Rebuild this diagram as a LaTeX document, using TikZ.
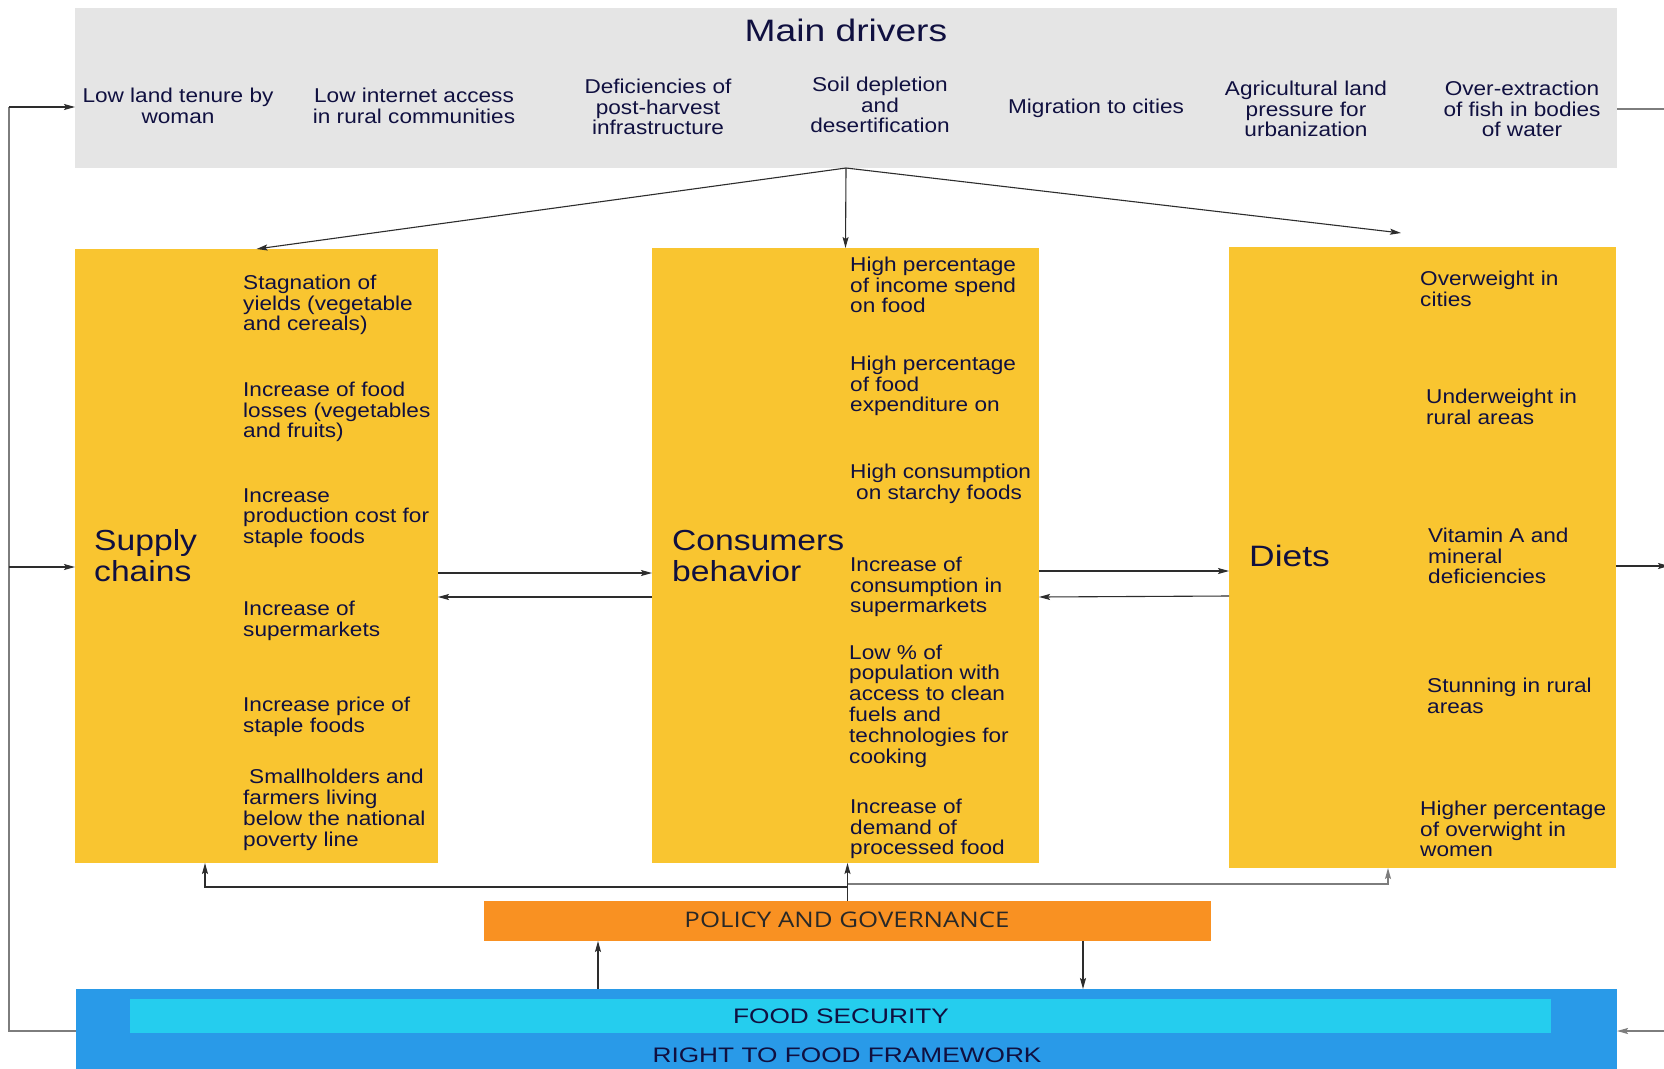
\documentclass[tikz,border=0pt]{standalone}
\usepackage{fontspec}
\setmainfont{Liberation Sans}
\newfontfamily\bodyfont[FakeStretch=1.13]{Liberation Sans}
\newfontfamily\headfont[FakeStretch=1.16]{Liberation Sans}
\newfontfamily\titlefont[FakeStretch=1.2]{Liberation Sans}
\newfontfamily\capsfont[FakeStretch=1.25]{Liberation Sans}
\newfontfamily\govfont[FakeStretch=1.2]{Open Sans}
\usetikzlibrary{arrows.meta}

\definecolor{ink}{RGB}{16,16,64}
\definecolor{drvgray}{RGB}{229,229,229}
\definecolor{boxyellow}{RGB}{249,197,48}
\definecolor{govorange}{RGB}{249,145,34}
\definecolor{frameblue}{RGB}{41,154,232}
\definecolor{secucyan}{RGB}{37,205,238}
\definecolor{wire}{RGB}{45,45,45}
\definecolor{loopgray}{RGB}{125,125,125}
\definecolor{govtext}{RGB}{40,40,40}

\tikzset{
  panel/.style={anchor=north west, inner sep=0pt, outer sep=0pt, draw=none},
  item/.style={anchor=west, align=left, inner sep=0pt, text=ink,
    font=\bodyfont\fontsize{20}{20.8}\selectfont},
  driver/.style={align=center, inner sep=0pt, text=ink,
    font=\bodyfont\fontsize{20}{20.6}\selectfont},
  blocktitle/.style={anchor=west, align=left, inner sep=0pt, text=ink,
    font=\headfont\fontsize{29}{31}\selectfont},
  wirel/.style={draw=wire, line width=1.1pt},
  loopl/.style={draw=loopgray, line width=1.3pt},
  tip/.style={-{Stealth[length=11pt,width=6pt,inset=2pt]}},
}

\begin{document}
\begin{tikzpicture}[x=1pt,y=-1pt]
\useasboundingbox (0,0) rectangle (1664,1068);
\clip (0,0) rectangle (1664,1068);
\fill[white] (0,0) rectangle (1664,1068);

% ---- panels ----
\node[panel, fill=drvgray, minimum width=1542pt, minimum height=160pt] (drivers) at (75,8) {};
\node[panel, fill=boxyellow, minimum width=363pt, minimum height=614pt] (supply) at (75,249) {};
\node[panel, fill=boxyellow, minimum width=387pt, minimum height=615pt] (consumers) at (652,248) {};
\node[panel, fill=boxyellow, minimum width=387pt, minimum height=621pt] (diets) at (1229,247) {};
\node[panel, fill=govorange, minimum width=727pt, minimum height=40pt] (policy) at (484,901) {};
\node[panel, fill=frameblue, minimum width=1541pt, minimum height=100pt] (frame) at (76,989) {};
\node[panel, fill=secucyan, minimum width=1421pt, minimum height=34pt] (security) at (130,999) {};

% ---- main drivers ----
\node[inner sep=0pt, text=ink, font=\titlefont\fontsize{31}{33}\selectfont] (mdtitle) at (846,30) {Main drivers};
\node[driver] (d1) at (178,106) {Low land tenure by\\woman};
\node[driver] (d2) at (414,106) {Low internet access\\in rural communities};
\node[driver] (d3) at (658,107) {Deficiencies of\\post-harvest\\infrastructure};
\node[driver] (d4) at (880,105) {Soil depletion\\and\\desertification};
\node[driver] (d5) at (1096,108) {Migration to cities};
\node[driver] (d6) at (1306,109) {Agricultural land\\pressure for\\urbanization};
\node[driver] (d7) at (1522,109) {Over-extraction\\of fish in bodies\\of water};

% ---- supply chains ----
\node[blocktitle] (suptitle) at (94,556) {Supply\\chains};
\node[item] (s1) at (243,305) {Stagnation of\\yields (vegetable\\and cereals)};
\node[item] (s2) at (243,412) {Increase of food\\losses (vegetables\\and fruits)};
\node[item] (s3) at (243,518) {Increase\\production cost for\\staple foods};
\node[item] (s4) at (243,621) {Increase of\\supermarkets};
\node[item] (s5) at (243,717) {Increase price of\\staple foods};
\node[item] (s6) at (243,810) {\hspace*{0.3em}Smallholders and\\farmers living\\below the national\\poverty line};

% ---- consumers behavior ----
\node[blocktitle] (contitle) at (672,556) {Consumers\\behavior};
\node[item] (c1) at (850,285) {High percentage\\of income spend\\on food};
\node[item] (c2) at (850,386) {High percentage\\of food\\expenditure on};
\node[item] (c3) at (850,484) {High consumption\\\hspace*{0.3em}on starchy foods};
\node[item] (c4) at (850,587) {Increase of\\consumption in\\supermarkets};
\node[item] (c5) at (849,706) {Low \% of\\population with\\access to clean\\fuels and\\technologies for\\cooking};
\node[item] (c6) at (850,829) {Increase of\\demand of\\processed food};

% ---- diets ----
\node[blocktitle, font=\titlefont\fontsize{29.5}{31}\selectfont] (diettitle) at (1249,556) {Diets};
\node[item] (t1) at (1420,289) {Overweight in\\cities};
\node[item] (t2) at (1426,407) {Underweight in\\rural areas};
\node[item] (t3) at (1428,556) {Vitamin A and\\mineral\\deficiencies};
\node[item] (t4) at (1427,696) {Stunning in rural\\areas};
\node[item] (t5) at (1420,829) {Higher percentage\\of overwight in\\women};

% ---- policy and framework labels ----
\node[inner sep=0pt, text=govtext, font=\govfont\fontsize{21.5}{24}\selectfont] (govlabel) at (847,920) {POLICY AND GOVERNANCE};
\node[inner sep=0pt, text=ink, font=\capsfont\fontsize{21}{24}\selectfont] (seclabel) at (841,1016) {FOOD SECURITY};
\node[inner sep=0pt, text=ink, font=\capsfont\fontsize{21}{24}\selectfont] (rtflabel) at (847,1055) {RIGHT TO FOOD FRAMEWORK};

% ---- connector waypoints ----
\coordinate (dietsin) at (1401,233);
\coordinate (loopbot) at (9,1031);
\coordinate (looptop) at (9,107);
\coordinate (loopmid) at (9,567);
\coordinate (supcorner) at (205,887);
\coordinate (dietcorner) at (1388,884);
\coordinate (rightout) at (1670,109);
\coordinate (rightdiet) at (1669,566);
\coordinate (rightin) at (1670,1031);

% drivers fan out to the three blocks
\draw[wirel, tip] (drivers.south) -- (supply.north);
\draw[wirel, tip] (drivers.south) -- (consumers.north);
\draw[wirel, tip] (drivers.south) -- (dietsin);

% exchanges between blocks
\draw[wirel, tip] (supply.east |- 0,573) -- (consumers.west |- 0,573);
\draw[wirel, tip] (consumers.west |- 0,597) -- (supply.east |- 0,597);
\draw[wirel, tip] (consumers.east |- 0,571) -- (diets.west |- 0,571);
\draw[wirel, tip] (diets.west |- 0,596) -- (consumers.east |- 0,597);

% feedback loop on the left
\draw[loopl] (frame.west |- loopbot) -- (loopbot) -- (looptop);
\draw[wirel, tip] (looptop) -- (drivers.west |- looptop);
\draw[wirel, tip] (loopmid) -- (supply.west |- loopmid);

% lines leaving on the right
\draw[loopl] (drivers.east |- rightout) -- (rightout);
\draw[wirel, tip] (diets.east |- rightdiet) -- (rightdiet);
\draw[loopl, tip] (rightin) -- (frame.east |- rightin);

% policy and governance feeding the blocks
\draw[wirel, tip] (policy.north) -- (policy.north |- consumers.south);
\draw[wirel, tip] (policy.north |- supcorner) -- (supcorner) -- (supcorner |- supply.south);
\draw[wirel, draw=loopgray, tip] (policy.north |- dietcorner) -- (dietcorner) -- (dietcorner |- diets.south);

% links with the food framework
\draw[wirel, tip] (598,0 |- frame.north) -- (598,0 |- policy.south);
\draw[wirel, tip] (1083,0 |- policy.south) -- (1083,0 |- frame.north);
\end{tikzpicture}
\end{document}
